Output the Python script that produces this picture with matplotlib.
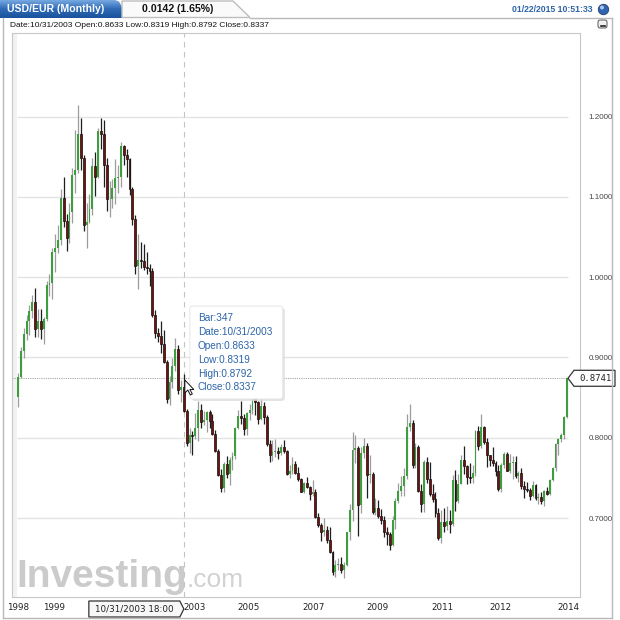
import matplotlib
matplotlib.use("Agg")
import matplotlib.pyplot as plt
import numpy as np
from matplotlib.patches import Polygon, Rectangle, FancyBboxPatch, Circle
from matplotlib.transforms import Affine2D
from matplotlib.colors import LinearSegmentedColormap

# USD/EUR monthly candles, Jan 1999 .. Jan 2015 (one row per year)
opens = [
    0.851, 0.876, 0.908, 0.929, 0.946, 0.958, 0.969, 0.935, 0.945, 0.935, 0.948, 0.990,
    0.993, 1.031, 1.036, 1.046, 1.099, 1.070, 1.049, 1.081, 1.127, 1.133, 1.179, 1.149,
    1.065, 1.069, 1.085, 1.139, 1.125, 1.182, 1.179, 1.140, 1.097, 1.097, 1.111, 1.124,
    1.125, 1.163, 1.152, 1.147, 1.110, 1.072, 1.014, 1.022, 1.020, 1.013, 1.011, 1.008,
    0.953, 0.930, 0.927, 0.917, 0.895, 0.848, 0.870, 0.890, 0.910, 0.859, 0.8633, 0.8337,
    0.793, 0.803, 0.802, 0.812, 0.835, 0.820, 0.822, 0.832, 0.821, 0.805, 0.784, 0.754,
    0.737, 0.767, 0.755, 0.772, 0.777, 0.812, 0.827, 0.825, 0.811, 0.831, 0.834, 0.848,
    0.845, 0.823, 0.839, 0.826, 0.792, 0.779, 0.782, 0.783, 0.781, 0.789, 0.784, 0.755,
    0.758, 0.767, 0.756, 0.749, 0.733, 0.744, 0.739, 0.730, 0.733, 0.701, 0.691, 0.683,
    0.685, 0.673, 0.658, 0.633, 0.641, 0.643, 0.635, 0.641, 0.682, 0.710, 0.785, 0.787,
    0.716, 0.781, 0.790, 0.753, 0.755, 0.707, 0.713, 0.702, 0.698, 0.683, 0.680, 0.666,
    0.698, 0.721, 0.734, 0.740, 0.752, 0.813, 0.818, 0.766, 0.788, 0.734, 0.718, 0.770,
    0.748, 0.730, 0.724, 0.706, 0.675, 0.695, 0.690, 0.696, 0.693, 0.747, 0.721, 0.743,
    0.772, 0.765, 0.751, 0.750, 0.756, 0.809, 0.790, 0.813, 0.795, 0.778, 0.772, 0.769,
    0.758, 0.736, 0.766, 0.780, 0.759, 0.769, 0.770, 0.752, 0.756, 0.740, 0.736, 0.735,
    0.727, 0.741, 0.725, 0.726, 0.721, 0.734, 0.730, 0.747, 0.762, 0.792, 0.798, 0.803,
    0.826,
]
highs = [
    0.881, 0.913, 0.937, 0.953, 0.965, 0.978, 0.986, 0.960, 0.960, 0.950, 0.995, 1.004,
    1.036, 1.054, 1.065, 1.110, 1.125, 1.079, 1.092, 1.136, 1.183, 1.215, 1.198, 1.152,
    1.092, 1.104, 1.149, 1.156, 1.186, 1.198, 1.196, 1.148, 1.120, 1.122, 1.147, 1.140,
    1.168, 1.165, 1.160, 1.148, 1.112, 1.077, 1.054, 1.044, 1.042, 1.032, 1.016, 1.012,
    0.959, 0.937, 0.945, 0.934, 0.897, 0.877, 0.899, 0.924, 0.916, 0.872, 0.8792, 0.836,
    0.812, 0.809, 0.831, 0.846, 0.842, 0.833, 0.833, 0.834, 0.830, 0.810, 0.786, 0.761,
    0.770, 0.777, 0.776, 0.782, 0.813, 0.834, 0.846, 0.830, 0.832, 0.842, 0.857, 0.853,
    0.846, 0.848, 0.845, 0.828, 0.797, 0.797, 0.798, 0.789, 0.792, 0.797, 0.785, 0.766,
    0.776, 0.771, 0.763, 0.750, 0.745, 0.751, 0.740, 0.747, 0.736, 0.706, 0.694, 0.700,
    0.690, 0.689, 0.659, 0.648, 0.650, 0.651, 0.645, 0.683, 0.718, 0.807, 0.803, 0.790,
    0.789, 0.800, 0.794, 0.779, 0.757, 0.725, 0.723, 0.711, 0.702, 0.689, 0.683, 0.703,
    0.725, 0.744, 0.752, 0.762, 0.830, 0.842, 0.822, 0.794, 0.791, 0.743, 0.772, 0.776,
    0.770, 0.743, 0.732, 0.712, 0.710, 0.713, 0.715, 0.710, 0.753, 0.760, 0.755, 0.778,
    0.790, 0.766, 0.768, 0.766, 0.810, 0.815, 0.830, 0.815, 0.800, 0.779, 0.788, 0.771,
    0.766, 0.769, 0.782, 0.782, 0.780, 0.777, 0.777, 0.759, 0.762, 0.746, 0.745, 0.738,
    0.746, 0.743, 0.731, 0.732, 0.735, 0.739, 0.748, 0.763, 0.794, 0.800, 0.806, 0.827,
    0.8745,
]
lows = [
    0.838, 0.874, 0.899, 0.922, 0.928, 0.949, 0.925, 0.926, 0.923, 0.917, 0.946, 0.977,
    0.973, 1.007, 1.030, 1.040, 1.062, 1.033, 1.043, 1.068, 1.105, 1.130, 1.133, 1.058,
    1.036, 1.068, 1.078, 1.101, 1.124, 1.160, 1.112, 1.082, 1.075, 1.086, 1.091, 1.105,
    1.113, 1.140, 1.125, 1.103, 1.065, 1.004, 0.985, 1.012, 1.009, 1.004, 0.989, 0.951,
    0.924, 0.919, 0.905, 0.893, 0.843, 0.841, 0.862, 0.883, 0.855, 0.844, 0.8319, 0.790,
    0.781, 0.778, 0.799, 0.796, 0.812, 0.816, 0.807, 0.812, 0.803, 0.782, 0.752, 0.732,
    0.733, 0.750, 0.741, 0.760, 0.773, 0.811, 0.817, 0.803, 0.803, 0.822, 0.829, 0.828,
    0.817, 0.822, 0.817, 0.790, 0.770, 0.771, 0.776, 0.774, 0.778, 0.781, 0.753, 0.750,
    0.755, 0.755, 0.746, 0.732, 0.731, 0.737, 0.722, 0.727, 0.700, 0.689, 0.671, 0.677,
    0.669, 0.657, 0.629, 0.627, 0.635, 0.631, 0.625, 0.640, 0.673, 0.696, 0.768, 0.678,
    0.706, 0.775, 0.725, 0.744, 0.705, 0.704, 0.700, 0.693, 0.676, 0.666, 0.660, 0.665,
    0.686, 0.719, 0.727, 0.728, 0.749, 0.808, 0.762, 0.762, 0.733, 0.707, 0.708, 0.744,
    0.728, 0.720, 0.701, 0.673, 0.669, 0.683, 0.685, 0.681, 0.690, 0.709, 0.719, 0.742,
    0.755, 0.742, 0.744, 0.744, 0.752, 0.785, 0.787, 0.792, 0.764, 0.765, 0.765, 0.752,
    0.734, 0.733, 0.762, 0.758, 0.756, 0.748, 0.750, 0.745, 0.736, 0.725, 0.732, 0.722,
    0.726, 0.723, 0.718, 0.717, 0.715, 0.729, 0.729, 0.746, 0.758, 0.779, 0.795, 0.799,
    0.824,
]
closes = [
    0.876, 0.908, 0.929, 0.946, 0.958, 0.969, 0.935, 0.945, 0.935, 0.948, 0.990, 0.993,
    1.031, 1.036, 1.046, 1.099, 1.070, 1.049, 1.081, 1.127, 1.133, 1.179, 1.149, 1.065,
    1.069, 1.085, 1.139, 1.125, 1.182, 1.179, 1.140, 1.097, 1.097, 1.111, 1.124, 1.125,
    1.163, 1.152, 1.147, 1.110, 1.072, 1.014, 1.022, 1.020, 1.013, 1.011, 1.008, 0.953,
    0.930, 0.927, 0.917, 0.895, 0.848, 0.870, 0.890, 0.910, 0.859, 0.8633, 0.8337, 0.793,
    0.803, 0.802, 0.812, 0.835, 0.820, 0.822, 0.832, 0.821, 0.805, 0.784, 0.754, 0.737,
    0.767, 0.755, 0.772, 0.777, 0.812, 0.827, 0.825, 0.811, 0.831, 0.834, 0.848, 0.845,
    0.823, 0.839, 0.826, 0.792, 0.779, 0.782, 0.783, 0.781, 0.789, 0.784, 0.755, 0.758,
    0.767, 0.756, 0.749, 0.733, 0.744, 0.739, 0.730, 0.733, 0.701, 0.691, 0.683, 0.685,
    0.673, 0.658, 0.633, 0.641, 0.643, 0.635, 0.641, 0.682, 0.710, 0.785, 0.787, 0.716,
    0.781, 0.790, 0.753, 0.755, 0.707, 0.713, 0.702, 0.698, 0.683, 0.680, 0.666, 0.698,
    0.721, 0.734, 0.740, 0.752, 0.813, 0.818, 0.766, 0.788, 0.734, 0.718, 0.770, 0.748,
    0.730, 0.724, 0.706, 0.675, 0.695, 0.690, 0.696, 0.693, 0.747, 0.721, 0.743, 0.772,
    0.765, 0.751, 0.750, 0.756, 0.809, 0.790, 0.813, 0.795, 0.778, 0.772, 0.769, 0.758,
    0.736, 0.766, 0.780, 0.759, 0.769, 0.770, 0.752, 0.756, 0.740, 0.736, 0.735, 0.727,
    0.741, 0.725, 0.726, 0.721, 0.734, 0.730, 0.747, 0.762, 0.792, 0.798, 0.803, 0.826,
    0.8741,
]

y_levels = [0.7, 0.8, 0.9, 1.0, 1.1, 1.2]
x_tick_pos = [0, 12.6, 61.9, 80.5, 103.2, 125.9, 148.5, 168.6, 192.5]
x_tick_labels = ["1998", "1999", "2003", "2005", "2007", "2009", "2011", "2012", "2014"]

hover_bar = 58
hover_lines = ["Bar:347", "Date:10/31/2003", "Open:0.8633", "Low:0.8319",
               "High:0.8792", "Close:0.8337"]
header_info = "Date:10/31/2003 Open:0.8633 Low:0.8319 High:0.8792 Close:0.8337"

GREEN = "#3d9e3d"
RED = "#7a0c0c"
BLUE_TXT = "#2c63a9"

o = np.array(opens)
h = np.array(highs)
l = np.array(lows)
c = np.array(closes)
idx = np.arange(len(c))
up = c >= o
dn = ~up

fig = plt.figure(figsize=(6.2, 6.2), dpi=100)
fig.patch.set_facecolor("white")
# pixel coords measured from the top-left corner
PIX = Affine2D().scale(1, -1).translate(0, 620)

ax = fig.add_axes([12 / 620, 1 - 597 / 620, 568 / 620, 564 / 620])
ax.set_xlim(-2.1, 196.55)
ax.set_ylim(0.6016, 1.3043)
ax.add_patch(Rectangle((0, 0), 0.009, 1, transform=ax.transAxes,
                       facecolor="#f2f2f2", edgecolor="none", zorder=0))

ax.hlines(y_levels, -0.35, 192.3, color="#e3e3e3", lw=1, zorder=0)
ax.hlines(c[-1], -2.1, idx[-1], color="#a8a8a8", lw=0.8,
          linestyles=(0, (1, 1)), zorder=1)
ax.axvline(hover_bar, color="#c4c4c4", lw=0.8, ls=(0, (5, 4)), zorder=1)

# watermark
ax.text(0.008, 0.018, "Investing", transform=ax.transAxes, fontsize=28,
        fontweight="bold", color="#cbcbcb", family="Liberation Sans", zorder=0)
ax.text(0.308, 0.018, ".com", transform=ax.transAxes, fontsize=19,
        color="#d2d2d2", family="Liberation Sans", zorder=0)

# wicks
ax.vlines(idx[up], l[up], h[up], color="#9c9c9c", lw=0.9, zorder=2)
ax.vlines(idx[dn], l[dn], h[dn], color="#1e1e1e", lw=0.9, zorder=2)
# bodies
ax.bar(idx[up], c[up] - o[up], bottom=o[up], width=0.66, color=GREEN,
       linewidth=0, zorder=3)
ax.bar(idx[dn], c[dn] - o[dn], bottom=o[dn], width=0.66, color=RED,
       edgecolor="#111111", linewidth=0.5, zorder=3)

for s in ax.spines.values():
    s.set_color("#c8c8c8")
ax.yaxis.tick_right()
ax.set_yticks(y_levels, [f"{v:.4f}" for v in y_levels])
ax.set_xticks(x_tick_pos, x_tick_labels)
ax.tick_params(axis="y", length=0, pad=6, labelsize=5.8, labelcolor="#444444")
ax.tick_params(axis="x", length=0, pad=4, labelsize=6.3, labelcolor="#222222")
for t in ax.get_yticklabels():
    t.set_family("Liberation Sans")

# frame and header
def line(xs, ys, color="#b8b8b8", lw=1):
    fig.add_artist(plt.Line2D(xs, ys, transform=PIX, color=color, lw=lw))

line([250, 612], [17.5, 17.5])
line([612, 612], [17.5, 618])
line([3, 612], [618, 618])
line([3, 3], [17.5, 618])

fig.add_artist(Polygon([(122, 17.5), (122, 1), (233, 1), (250, 17.5)],
                       closed=True, transform=PIX, facecolor="#fafafa",
                       edgecolor="#bdbdbd", lw=1))
tab = fig.add_axes([0, 1 - 18 / 620, 130 / 620, 18 / 620])
tab.set_axis_off()
tab.set_xlim(0, 130)
tab.set_ylim(18, 0)
cmap = LinearSegmentedColormap.from_list("tab", ["#76a8e0", "#2e6ab6", "#1b539c"])
im = tab.imshow(np.linspace(0, 1, 40).reshape(-1, 1), aspect="auto", cmap=cmap,
                extent=(0, 130, 18, 0))
im.set_clip_path(Polygon([(0, 0), (115, 0), (119, 1.5), (128, 18), (0, 18)],
                         transform=tab.transData))

fig.text(7, 9.5, "USD/EUR (Monthly)", transform=PIX, color="white",
         fontsize=7.6, fontweight="bold", va="center", family="Liberation Sans")
fig.text(142, 9.5, "0.0142 (1.65%)", transform=PIX, color="#111111",
         fontsize=7.6, fontweight="bold", va="center", family="Liberation Sans")
fig.text(593, 10, "01/22/2015 10:51:33", transform=PIX, color=BLUE_TXT,
         fontsize=6.2, fontweight="bold", ha="right", va="center",
         family="Liberation Sans")
fig.add_artist(Circle((603.5, 9.5), 5.2, transform=PIX, facecolor="#2f64b0",
                      edgecolor="#1d3f75", lw=0.6))
fig.add_artist(Circle((602, 7.5), 2.0, transform=PIX, facecolor="#a9c8ee",
                      edgecolor="none"))
fig.add_artist(FancyBboxPatch((598, 20), 9, 8, boxstyle="round,pad=0,rounding_size=2",
                              transform=PIX, facecolor="#f0f0f0",
                              edgecolor="#555555", lw=0.7))
line([600.5, 604.5], [25.5, 25.5], color="#222222", lw=1.2)
fig.text(10, 25.5, header_info, transform=PIX, color="#111111", fontsize=6,
         va="center", family="Liberation Sans")

# hover crosshair extras, anchored on the hovered bar
cx = ax.transData.transform((hover_bar, 0))[0]
fig.add_artist(FancyBboxPatch((cx + 8, 308), 93, 93,
                              boxstyle="round,pad=0,rounding_size=3",
                              transform=PIX, facecolor="#dcdcdc",
                              edgecolor="none", alpha=0.8))
fig.add_artist(FancyBboxPatch((cx + 6, 306), 93, 93,
                              boxstyle="round,pad=0,rounding_size=3",
                              transform=PIX, facecolor="white",
                              edgecolor="#e2e2e2", lw=0.6))
for i, s in enumerate(hover_lines):
    fig.text(cx + 14, 318 + i * 13.9, s, transform=PIX, color=BLUE_TXT,
             fontsize=7.2, va="center", family="Liberation Sans")
cur = [(0, 0), (0, 13), (3, 10), (5.5, 15), (7.5, 14), (5, 9.5), (9, 9.5)]
fig.add_artist(Polygon([(cx + 1 + a, 380 + b) for a, b in cur], closed=True,
                       transform=PIX, facecolor="white", edgecolor="#111111",
                       lw=0.7))

# date tag on the time axis
fig.add_artist(Polygon([(cx - 95, 601), (cx - 4, 601), (cx, 609), (cx - 4, 617),
                        (cx - 95, 617)], closed=True, transform=PIX,
                       facecolor="#f7f7f7", edgecolor="#333333", lw=0.9))
fig.text(cx - 50, 609, "10/31/2003 18:00", transform=PIX, color="#222222",
         fontsize=6.3, ha="center", va="center")

# last price tag on the price axis
py = 620 - ax.transData.transform((0, c[-1]))[1]
fig.add_artist(Polygon([(568, py), (574, py - 8), (615, py - 8), (615, py + 8),
                        (574, py + 8)], closed=True, transform=PIX,
                       facecolor="white", edgecolor="#333333", lw=0.9))
fig.text(595, py, f"{c[-1]:.4f}", transform=PIX, color="#222222", fontsize=6.5,
         ha="center", va="center", family="DejaVu Sans Mono")

fig.savefig("out.png", dpi=100)
